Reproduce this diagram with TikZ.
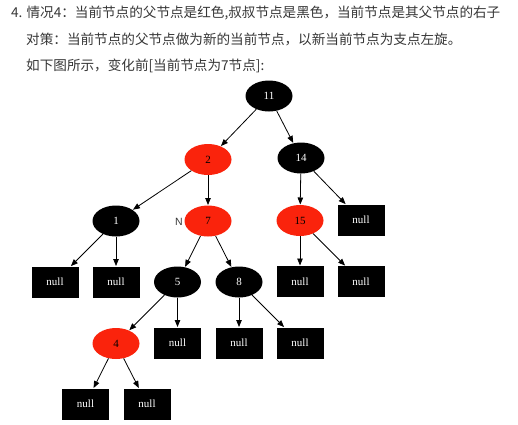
\documentclass[tikz,border=0pt]{standalone}
\usepackage{fontspec}
\setmainfont{Liberation Serif}
\newfontfamily\cjk{Noto Sans CJK SC}
\newfontfamily\sansN{Liberation Sans}
\usetikzlibrary{shapes.geometric,arrows.meta}
\definecolor{rbred}{RGB}{250,35,12}
\definecolor{txtgray}{RGB}{55,55,55}
\begin{document}
\begin{tikzpicture}[x=1pt,y=-1pt,
  nodefont/.style={font=\fontsize{11}{11}\selectfont},
  bn/.style={ellipse,fill=black,text=white,minimum width=47pt,minimum height=31pt,inner sep=0pt,nodefont},
  rn/.style={ellipse,fill=rbred,text=black,minimum width=47pt,minimum height=31pt,inner sep=0pt,nodefont},
  nl/.style={rectangle,fill=black,text=white,minimum width=47pt,minimum height=31pt,inner sep=0pt,nodefont},
  arr/.style={draw=black,line width=0.8pt,-{Triangle[length=7pt,width=5.5pt]},shorten >=0.3pt},
  hdr/.style={anchor=base west,inner sep=0pt,text=txtgray,font=\cjk\fontsize{13.6}{16}\selectfont}]
\useasboundingbox (0,0) rectangle (518,424);
\fill[white] (0,0) rectangle (518,424);
% header text
\node[hdr] (t1) at (11,17.5) {4. 情况4：当前节点的父节点是红色,叔叔节点是黑色，当前节点是其父节点的右子};
\node[hdr] (t2) at (26,44.5) {对策：当前节点的父节点做为新的当前节点，以新当前节点为支点左旋。};
\node[hdr] (t3) at (26,70.5) {如下图所示，变化前[当前节点为7节点]:};
% tree nodes
\node[bn] (n11) at (269,96) {11};
\node[rn] (n2) at (208,159.5) {2};
\node[bn] (n14) at (301,158) {14};
\node[bn] (n1) at (116,221) {1};
\node[rn] (n7) at (208,221) {7};
\node[rn] (n15) at (300,220.5) {15};
\node[nl] (z1) at (361,220) {null};
\node[nl] (z2) at (55,282) {null};
\node[nl] (z3) at (116,282) {null};
\node[bn] (n5) at (177.5,282) {5};
\node[bn] (n8) at (239,282) {8};
\node[nl] (z4) at (300,281.5) {null};
\node[nl] (z5) at (361,281.5) {null};
\node[rn] (n4) at (116,343.5) {4};
\node[nl] (z6) at (177.5,343) {null};
\node[nl] (z7) at (239,343) {null};
\node[nl] (z8) at (300,343) {null};
\node[nl] (z9) at (85.5,404) {null};
\node[nl] (z10) at (147,404) {null};
\node[text=txtgray,font=\sansN\fontsize{10.5}{10.5}\selectfont,inner sep=0pt] (lblN) at (179,221.5) {N};
% edges
\draw[arr] (n11) -- (n2);
\draw[arr] (n11) -- (n14);
\draw[arr] (n2) -- (n1);
\draw[arr] (n2) -- (n7);
\draw[arr] (n14) -- (n15);
\draw[arr] (n14) -- (z1);
\draw[arr] (n1) -- (z2);
\draw[arr] (n1) -- (z3);
\draw[arr] (n7) -- (n5);
\draw[arr] (n7) -- (n8);
\draw[arr] (n15) -- (z4);
\draw[arr] (n15) -- (z5);
\draw[arr] (n5) -- (n4);
\draw[arr] (n5) -- (z6);
\draw[arr] (n8) -- (z7);
\draw[arr] (n8) -- (z8);
\draw[arr] (n4) -- (z9);
\draw[arr] (n4) -- (z10);
\end{tikzpicture}
\end{document}
